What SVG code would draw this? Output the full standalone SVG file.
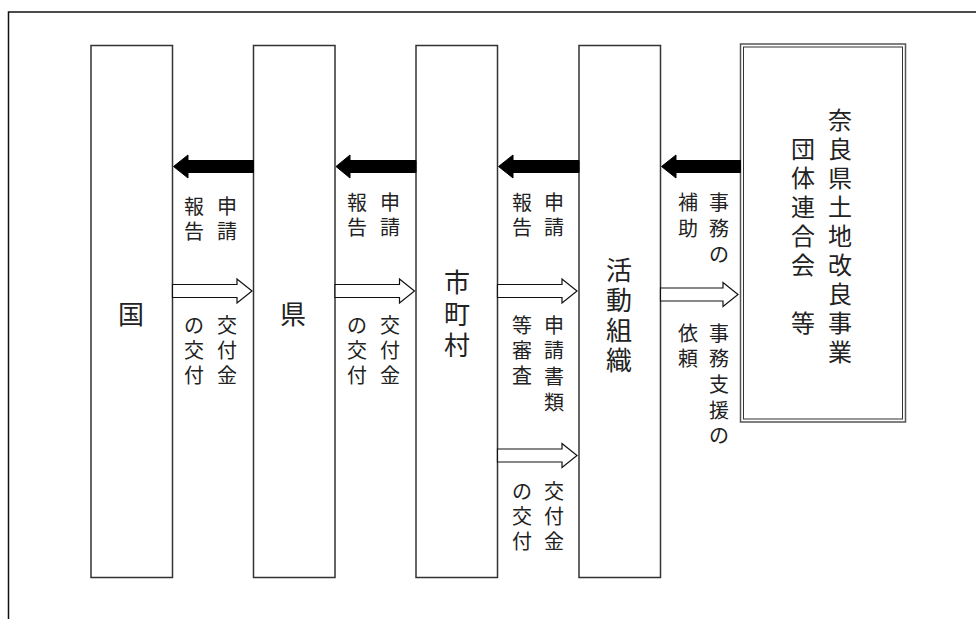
<svg xmlns="http://www.w3.org/2000/svg" width="976" height="619" viewBox="0 0 976 619">
<style>
.box{fill:#fff;stroke:#333;stroke-width:1.5}
.lbl{font-family:"Noto Sans CJK JP","Noto Sans CJK SC",sans-serif;font-size:20px;fill:#222;text-anchor:middle;dominant-baseline:central}
.big{font-family:"Noto Sans CJK JP","Noto Sans CJK SC",sans-serif;font-size:26px;fill:#222;text-anchor:middle;dominant-baseline:central}
.mid{font-family:"Noto Sans CJK JP","Noto Sans CJK SC",sans-serif;font-size:24px;fill:#222;text-anchor:middle;dominant-baseline:central}
.blk{fill:#000;stroke:#000;stroke-width:1}
.wht{fill:#fff;stroke:#111;stroke-width:1.2}
</style>
<rect width="976" height="619" fill="#fff"/>
<path d="M8.5 619 V12 H976" fill="none" stroke="#111" stroke-width="1.5"/>

<g id="kuni"><rect class="box" x="91" y="45.5" width="81.5" height="532"/><text class="big" x="131" y="312">国</text></g>
<g id="ken"><rect class="box" x="253.5" y="45.5" width="81.5" height="532"/><text class="big" x="293" y="312">県</text></g>
<g id="shichoson"><rect class="box" x="416" y="45.5" width="81.5" height="532"/><text class="big"><tspan x="457" y="280">市</tspan><tspan x="457" y="312">町</tspan><tspan x="457" y="343">村</tspan></text></g>
<g id="katsudo"><rect class="box" x="579" y="45.5" width="81.5" height="532"/><text class="big"><tspan x="619" y="268">活</tspan><tspan x="619" y="298">動</tspan><tspan x="619" y="328">組</tspan><tspan x="619" y="358">織</tspan></text></g>
<g id="rengokai"><rect x="740.5" y="44" width="165" height="378" fill="#fff" stroke="#555" stroke-width="1.5"/><rect x="743.5" y="47" width="159" height="372" fill="none" stroke="#333" stroke-width="1"/>
<text class="mid"><tspan x="840" y="118">奈</tspan><tspan x="840" y="147">良</tspan><tspan x="840" y="176">県</tspan><tspan x="840" y="205">土</tspan><tspan x="840" y="234">地</tspan><tspan x="840" y="263">改</tspan><tspan x="840" y="292">良</tspan><tspan x="840" y="321">事</tspan><tspan x="840" y="350">業</tspan><tspan x="803" y="147">団</tspan><tspan x="803" y="176">体</tspan><tspan x="803" y="205">連</tspan><tspan x="803" y="234">合</tspan><tspan x="803" y="263">会</tspan><tspan x="803" y="321">等</tspan></text></g>

<g id="connectors">
<polygon class="blk" points="173.5,166.5 188,155 188,160.5 253.5,160.5 253.5,172.5 188,172.5 188,178"/>
<polygon class="blk" points="336,166.5 350,155 350,160.5 416,160.5 416,172.5 350,172.5 350,178"/>
<polygon class="blk" points="498.5,166.5 513,155 513,160.5 579,160.5 579,172.5 513,172.5 513,178"/>
<polygon class="blk" points="661.5,166.5 676,155 676,160.5 740.5,160.5 740.5,172.5 676,172.5 676,178"/>
<polygon class="wht" points="172.5,284.5 237,284.5 237,279 252,291 237,303 237,297.5 172.5,297.5"/>
<polygon class="wht" points="335,284.5 399.5,284.5 399.5,279 414.5,291 399.5,303 399.5,297.5 335,297.5"/>
<polygon class="wht" points="497.5,284.5 562,284.5 562,279 577,291 562,303 562,297.5 497.5,297.5"/>
<polygon class="wht" points="497.5,449 562,449 562,443.5 577,455.5 562,467.5 562,462 497.5,462"/>
<polygon class="wht" points="660.5,288 723,288 723,282.5 738,294.5 723,306.5 723,301 660.5,301"/>
<text class="lbl"><tspan x="227" y="205">申</tspan><tspan x="227" y="230">請</tspan><tspan x="194" y="205">報</tspan><tspan x="194" y="230">告</tspan></text>
<text class="lbl"><tspan x="227" y="324">交</tspan><tspan x="227" y="349">付</tspan><tspan x="227" y="374">金</tspan><tspan x="194" y="324">の</tspan><tspan x="194" y="349">交</tspan><tspan x="194" y="374">付</tspan></text>
<text class="lbl"><tspan x="390" y="201">申</tspan><tspan x="390" y="226">請</tspan><tspan x="357" y="201">報</tspan><tspan x="357" y="226">告</tspan></text>
<text class="lbl"><tspan x="390" y="324">交</tspan><tspan x="390" y="349">付</tspan><tspan x="390" y="374">金</tspan><tspan x="357" y="324">の</tspan><tspan x="357" y="349">交</tspan><tspan x="357" y="374">付</tspan></text>
<text class="lbl"><tspan x="554" y="201">申</tspan><tspan x="554" y="226">請</tspan><tspan x="522" y="201">報</tspan><tspan x="522" y="226">告</tspan></text>
<text class="lbl"><tspan x="554" y="324">申</tspan><tspan x="554" y="349">請</tspan><tspan x="554" y="375">書</tspan><tspan x="554" y="401">類</tspan><tspan x="522" y="324">等</tspan><tspan x="522" y="349">審</tspan><tspan x="522" y="374">査</tspan></text>
<text class="lbl"><tspan x="554" y="490">交</tspan><tspan x="554" y="515">付</tspan><tspan x="554" y="540">金</tspan><tspan x="522" y="490">の</tspan><tspan x="522" y="515">交</tspan><tspan x="522" y="540">付</tspan></text>
<text class="lbl"><tspan x="719" y="201">事</tspan><tspan x="719" y="227">務</tspan><tspan x="719" y="253">の</tspan><tspan x="688" y="201">補</tspan><tspan x="688" y="227">助</tspan></text>
<text class="lbl"><tspan x="719" y="332">事</tspan><tspan x="719" y="357">務</tspan><tspan x="719" y="383">支</tspan><tspan x="719" y="409">援</tspan><tspan x="719" y="434">の</tspan><tspan x="688" y="332">依</tspan><tspan x="688" y="357">頼</tspan></text>
</g>
</svg>
